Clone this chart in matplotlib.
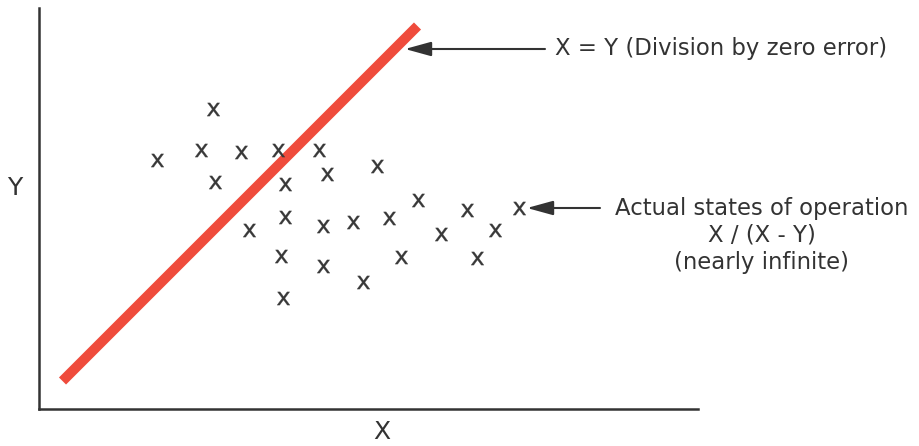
import matplotlib.pyplot as plt

# 数据（单位：像素坐标，原点在坐标轴左下角）
pts_x = [174, 118, 162, 202, 239, 280, 176, 246, 288, 338, 379, 428, 480,
         210, 246, 284, 314, 350, 402, 456, 242, 284, 362, 438, 244, 324]
pts_y = [300, 249, 259, 257, 259, 259, 227, 225, 235, 243, 209, 199, 201,
         179, 192, 183, 187, 191, 175, 179, 153, 143, 152, 151, 111, 127]
line_x = [24, 379]
line_y = [28, 383]
note1 = "X = Y (Division by zero error)"
note2_lines = ["Actual states of operation", "X / (X - Y)", "(nearly infinite)"]

plt.rcParams['font.family'] = ['DejaVu Sans']
dark = '#333333'

fig = plt.figure(figsize=(9.19, 4.46), dpi=100)
ax = fig.add_axes([38.5 / 919, 37 / 446, 659.5 / 919, 401 / 446])
ax.set_xlim(0, 659.5)
ax.set_ylim(0, 401)
for s in ['top', 'right']:
    ax.spines[s].set_visible(False)
for s in ['left', 'bottom']:
    ax.spines[s].set_linewidth(1.8)
    ax.spines[s].set_color(dark)
ax.set_xticks([])
ax.set_yticks([])

# 红线 X = Y
ax.plot(line_x, line_y, color='#EF4B3C', lw=7.2, solid_capstyle='butt', zorder=3)

# 散点（x 字形）
ax.scatter(pts_x, pts_y, marker=r'$\mathsf{x}$', s=90, color='#383838',
           edgecolors='#383838', linewidths=0.2, zorder=4, clip_on=False)

arrow = dict(arrowstyle='-|>,head_length=0.8,head_width=0.22', color=dark,
             lw=1.5, shrinkA=0, shrinkB=0, mutation_scale=20)

# 注释 1
ax.annotate('', xy=(366.5, 360), xytext=(506.5, 360), arrowprops=arrow,
            annotation_clip=False)
ax.text(516.5, 360, note1, fontsize=16.4, color=dark, ha='left', va='center',
        clip_on=False)

# 注释 2
ax.annotate('', xy=(488.5, 201), xytext=(561.5, 201), arrowprops=arrow,
            annotation_clip=False)
for i, t in enumerate(note2_lines):
    ax.text(723.5, 201 - 27.5 * i, t, fontsize=16.4, color=dark, ha='center',
            va='center', clip_on=False)

# 坐标轴标签
ax.text(343.5, -23, 'X', fontsize=18, color=dark, ha='center', va='center', clip_on=False)
ax.text(-23.5, 221, 'Y', fontsize=18, color=dark, ha='center', va='center', clip_on=False)

plt.savefig('out.png', dpi=100)
